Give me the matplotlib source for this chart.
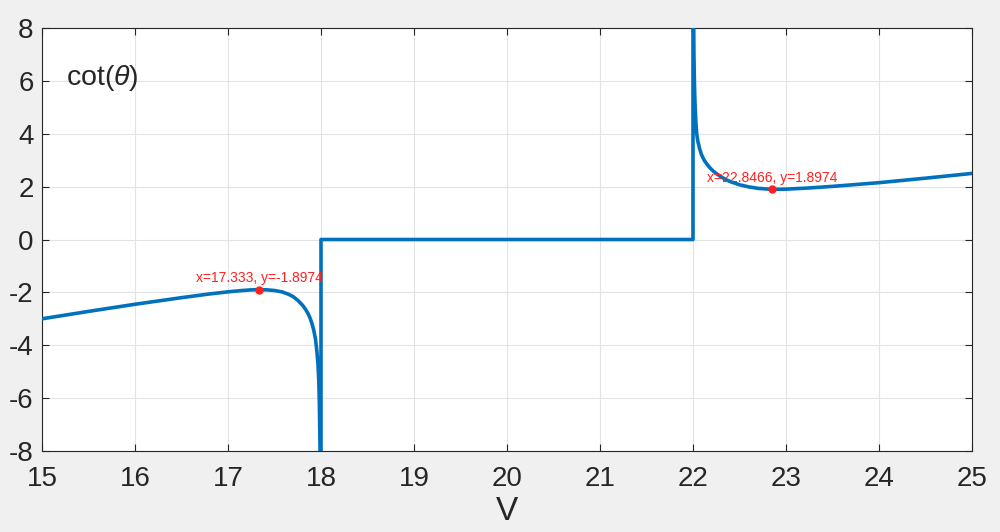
import matplotlib.pyplot as plt

# Values
v_left = [15.0, 15.5, 16.0, 16.5, 16.8, 17.0, 17.15, 17.25, 17.333, 17.42, 17.5,
          17.58, 17.65, 17.7, 17.75, 17.8, 17.83, 17.86, 17.88, 17.9, 17.92, 17.94,
          17.955, 17.967, 17.976, 17.983, 17.99, 17.995]
cot_left = [-3.0, -2.72, -2.45, -2.2, -2.06, -1.98, -1.93, -1.905, -1.897, -1.905,
            -1.93, -1.98, -2.07, -2.16, -2.3, -2.48, -2.62, -2.8, -2.95, -3.15,
            -3.4, -3.75, -4.2, -4.7, -5.3, -6.3, -8.0, -20.0]

v_mid = [18.0, 18.0, 22.0, 22.0]
cot_mid = [-20.0, 0.0, 0.0, 20.0]

v_right = [22.005, 22.01, 22.015, 22.02, 22.03, 22.04, 22.05, 22.07, 22.09, 22.12,
           22.15, 22.18, 22.22, 22.26, 22.3, 22.35, 22.4, 22.5, 22.6, 22.7,
           22.8466, 23.0, 23.25, 23.5, 24.0, 24.5, 25.0]
cot_right = [9.5, 7.0, 6.0, 5.3, 4.5, 4.0, 3.75, 3.45, 3.22, 3.0,
             2.85, 2.72, 2.58, 2.47, 2.38, 2.27, 2.19, 2.07, 1.99, 1.935,
             1.897, 1.905, 1.95, 2.01, 2.15, 2.32, 2.5]

tips_v = [17.333, 22.8466]
tips_cot = [-1.8974, 1.8974]
tips_text = ["x=17.333, y=-1.8974", "x=22.8466, y=1.8974"]

matlab_blue = "#0072BD"
plt.rcParams["font.family"] = ["Liberation Sans", "DejaVu Sans"]
plt.rcParams["axes.unicode_minus"] = False
plt.rcParams["mathtext.fontset"] = "custom"
plt.rcParams["mathtext.it"] = "Liberation Sans:italic"
plt.rcParams["mathtext.rm"] = "Liberation Sans"

fig = plt.figure(figsize=(10, 5.32), dpi=100, facecolor="#f0f0f0")
ax = fig.add_axes([0.042, 0.1523, 0.930, 0.795])
ax.set_facecolor("white")

ax.plot(v_left + v_mid + v_right, cot_left + cot_mid + cot_right,
        color=matlab_blue, linewidth=2.6, solid_joinstyle="round", zorder=3)

# data tips
ax.plot(tips_v, tips_cot, "o", color="#ff2020", markersize=5, zorder=4)
for vx, vy, t in zip(tips_v, tips_cot, tips_text):
    ax.annotate(t, (vx, vy), xytext=(0, 3), textcoords="offset points",
                ha="center", va="bottom", color="#ff2020", fontsize=10, zorder=5)

ax.text(15.26, 6.1, r"cot($\theta$)", fontsize=20.5, color="#262626",
        ha="left", va="center")

ax.set_xlim(15, 25)
ax.set_ylim(-8, 8)
ax.set_xticks(range(15, 26))
ax.set_yticks(range(-8, 9, 2))
ax.set_xlabel("V", fontsize=24, color="#262626", labelpad=3)
ax.grid(True, color="#e3e3e3", linewidth=0.8)
ax.set_axisbelow(True)
ax.tick_params(direction="in", top=True, right=True, length=5, width=0.8,
               colors="#262626", labelsize=20)
ax.tick_params(axis="x", pad=11)
ax.tick_params(axis="y", pad=6)
for s in ax.spines.values():
    s.set_color("#262626")
    s.set_linewidth(0.8)

fig.savefig("out.png", dpi=100, facecolor=fig.get_facecolor())
